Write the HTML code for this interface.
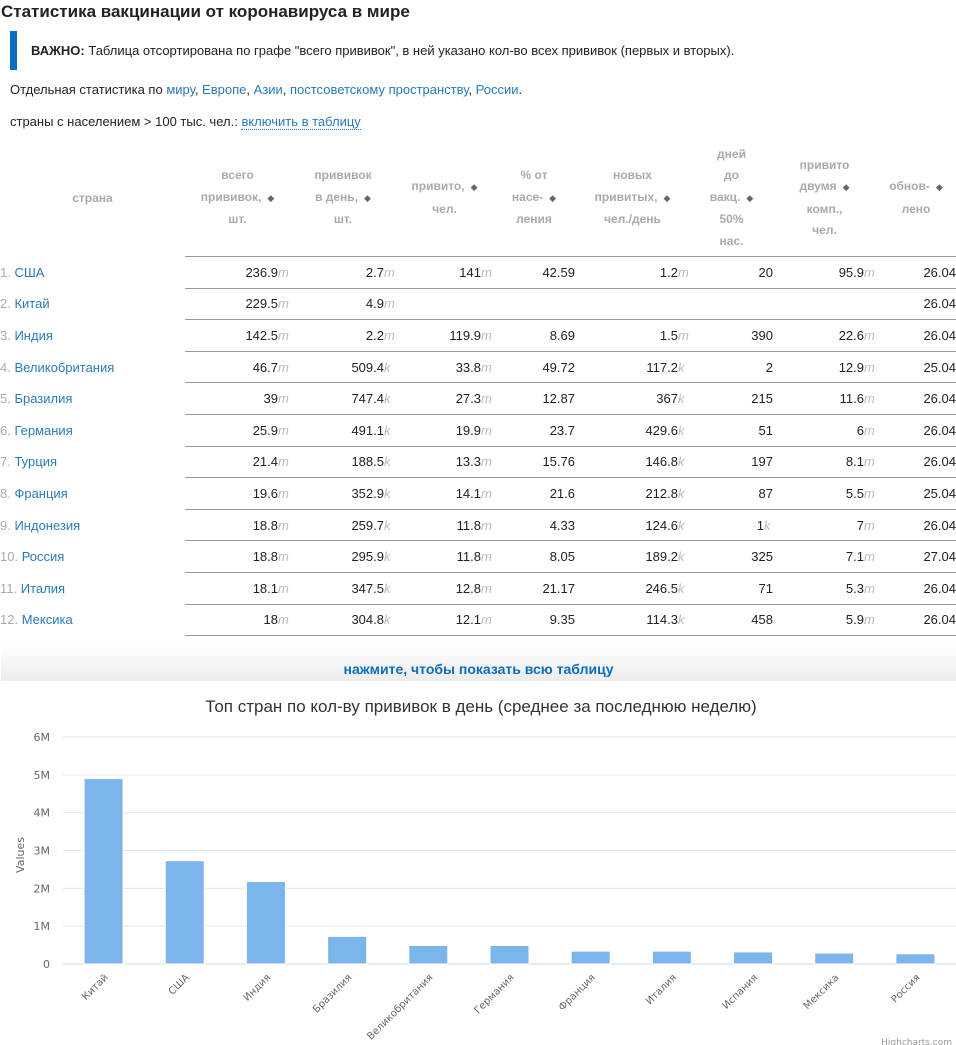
<!DOCTYPE html>
<html><head><meta charset="utf-8">
<style>
body{margin:0;width:956px;height:1045px;overflow:hidden;background:#fff;font-family:"Liberation Sans","DejaVu Sans",sans-serif;color:#222;position:relative}
.abs{position:absolute}
h1{position:absolute;left:1px;top:0;margin:0;font-size:17px;font-weight:bold;line-height:24px;color:#222}
.note{position:absolute;left:10px;top:31px;height:39px;border-left:7px solid #0a6ebd;padding-left:14px;font-size:13px;line-height:39px}
.p{position:absolute;left:10px;font-size:13px;line-height:18px}
a{color:#2a7ab8;text-decoration:none}
.dot{border-bottom:1px dotted #2a7ab8}
table{position:absolute;left:0;top:140px;width:956px;border-collapse:collapse;font-size:13px}
th{color:#aaa;font-weight:bold;font-size:12px;line-height:21.5px;height:116px;padding:0;text-align:center;vertical-align:middle}
th span.s{font-size:9px;color:#666;margin-left:6px}
td{height:30.6px;padding:0;text-align:right;border-top:1px solid #999;white-space:nowrap}
td.c{text-align:left;border-top:none;color:#2a7ab8}
td.c i{color:#aaa;font-style:normal}
td em{color:#bbb;font-style:italic;display:inline-block;width:12px;text-align:left}
tr.last td{border-bottom:1px solid #999}
tr.last td.c{border-bottom:none}
.more{position:absolute;left:1px;top:645px;width:955px;height:36px;background:linear-gradient(#fff,#ececec);text-align:center;font-weight:bold;color:#0a6ebd;font-size:14px;line-height:48px}
</style></head><body>
<h1>Статистика вакцинации от коронавируса в мире</h1>
<div class="note"><b>ВАЖНО:</b> Таблица отсортирована по графе "всего прививок", в ней указано кол-во всех прививок (первых и вторых).</div>
<div class="p" style="top:81px">Отдельная статистика по <a>миру</a>, <a>Европе</a>, <a>Азии</a>, <a>постсоветскому пространству</a>, <a>России</a>.</div>
<div class="p" style="top:113px">страны с населением &gt; 100 тыс. чел.: <a class="dot">включить в таблицу</a></div>

<table>
<colgroup><col style="width:185px"><col style="width:105px"><col style="width:106px"><col style="width:97px"><col style="width:82px"><col style="width:115px"><col style="width:83px"><col style="width:103px"><col style="width:80px"></colgroup>
<thead><tr>
<th>страна</th>
<th>всего<br>прививок,<span class="s">◆</span><br>шт.</th>
<th>прививок<br>в день,<span class="s">◆</span><br>шт.</th>
<th>привито,<span class="s">◆</span><br>чел.</th>
<th>% от<br>насе-<span class="s">◆</span><br>ления</th>
<th>новых<br>привитых,<span class="s">◆</span><br>чел./день</th>
<th>дней<br>до<br>вакц.<span class="s">◆</span><br>50%<br>нас.</th>
<th>привито<br>двумя<span class="s">◆</span><br>комп.,<br>чел.</th>
<th>обнов-<span class="s">◆</span><br>лено</th>
</tr></thead>
<tbody id="tb"></tbody>
</table>

<div class="more">нажмите, чтобы показать всю таблицу</div>

<svg class="abs" style="left:0;top:685px" width="956" height="360">
<text x="481" y="27" text-anchor="middle" font-size="17" fill="#333" font-family="Liberation Sans,DejaVu Sans,sans-serif">Топ стран по кол-ву прививок в день (среднее за последнюю неделю)</text>
<text transform="translate(24,170) rotate(-90)" text-anchor="middle" font-size="11" fill="#666" font-family="DejaVu Sans,sans-serif">Values</text>
<g id="g"></g>
<text x="952" y="360" text-anchor="end" font-size="9" fill="#999" font-family="DejaVu Sans,sans-serif">Highcharts.com</text>
</svg>

<script>
const rows=[
["США","236.9","m","2.7","m","141","m","42.59","1.2","m","20","","95.9","m","26.04"],
["Китай","229.5","m","4.9","m","","","","","","","","","","26.04"],
["Индия","142.5","m","2.2","m","119.9","m","8.69","1.5","m","390","","22.6","m","26.04"],
["Великобритания","46.7","m","509.4","k","33.8","m","49.72","117.2","k","2","","12.9","m","25.04"],
["Бразилия","39","m","747.4","k","27.3","m","12.87","367","k","215","","11.6","m","26.04"],
["Германия","25.9","m","491.1","k","19.9","m","23.7","429.6","k","51","","6","m","26.04"],
["Турция","21.4","m","188.5","k","13.3","m","15.76","146.8","k","197","","8.1","m","26.04"],
["Франция","19.6","m","352.9","k","14.1","m","21.6","212.8","k","87","","5.5","m","25.04"],
["Индонезия","18.8","m","259.7","k","11.8","m","4.33","124.6","k","1","k","7","m","26.04"],
["Россия","18.8","m","295.9","k","11.8","m","8.05","189.2","k","325","","7.1","m","27.04"],
["Италия","18.1","m","347.5","k","12.8","m","21.17","246.5","k","71","","5.3","m","26.04"],
["Мексика","18","m","304.8","k","12.1","m","9.35","114.3","k","458","","5.9","m","26.04"]];
const tb=document.getElementById('tb');
rows.forEach((r,i)=>{
 const tr=document.createElement('tr');
 
 
 if(i===rows.length-1)tr.className='last';
 const u=(v,s)=>v===''?'':v+(s?'<em>'+s+'</em>':'<em></em>');
 const days=r[10]===''?'':(r[11]?r[10]+'<em style="width:9px">'+r[11]+'</em>':r[10]);
 tr.innerHTML='<td class="c"><i>'+(i+1)+'.</i> '+r[0]+'</td><td>'+u(r[1],r[2])+'</td><td>'+u(r[3],r[4])+'</td><td>'+u(r[5],r[6])+'</td><td>'+r[7]+'</td><td>'+u(r[8],r[9])+'</td><td>'+days+'</td><td>'+u(r[12],r[13])+'</td><td>'+r[14]+'</td>';
 tb.appendChild(tr);
});
</script>
<script>
const categories=["Китай","США","Индия","Бразилия","Великобритания","Германия","Франция","Италия","Испания","Мексика","Россия"];
const values=[4.9,2.73,2.18,0.73,0.49,0.49,0.34,0.34,0.32,0.29,0.27];
const yTicks=[0,1,2,3,4,5,6];
const yTickLabels=["0","1M","2M","3M","4M","5M","6M"];
const NS='http://www.w3.org/2000/svg';
const g=document.getElementById('g');
const X0=63,X1=956,Y0=279,YT=52,YMAX=6;
const band=(X1-X0)/categories.length;
const y=v=>Y0-(v/YMAX)*(Y0-YT);
const xc=i=>X0+band*(i+0.5);
function el(t,a){const e=document.createElementNS(NS,t);for(const k in a)e.setAttribute(k,a[k]);g.appendChild(e);return e;}
yTicks.forEach((t,i)=>{
 const l=el('line',{x1:X0,x2:X1,y1:y(t),y2:y(t),stroke:i?'#e6e6e6':'#ccd6eb'});
 
 
 const tx=el('text',{x:50,y:y(t)+4,'text-anchor':'end','font-size':11,fill:'#666','font-family':'DejaVu Sans,sans-serif'});
 tx.textContent=yTickLabels[i];
 
 
});
values.forEach((v,i)=>{
 const w=39;
 const r=el('rect',{x:xc(i)-w/2,y:y(v),width:w,height:Y0-y(v),fill:'#7cb5ec',stroke:'#fff','stroke-width':1});
 
 
 const tx=el('text',{transform:'translate('+(xc(i)+5)+','+(Y0+14)+') rotate(-45)','text-anchor':'end','font-size':10,fill:'#666','font-family':'DejaVu Sans,sans-serif'});
 tx.textContent=categories[i];
 
 
});
</script>
</body></html>
